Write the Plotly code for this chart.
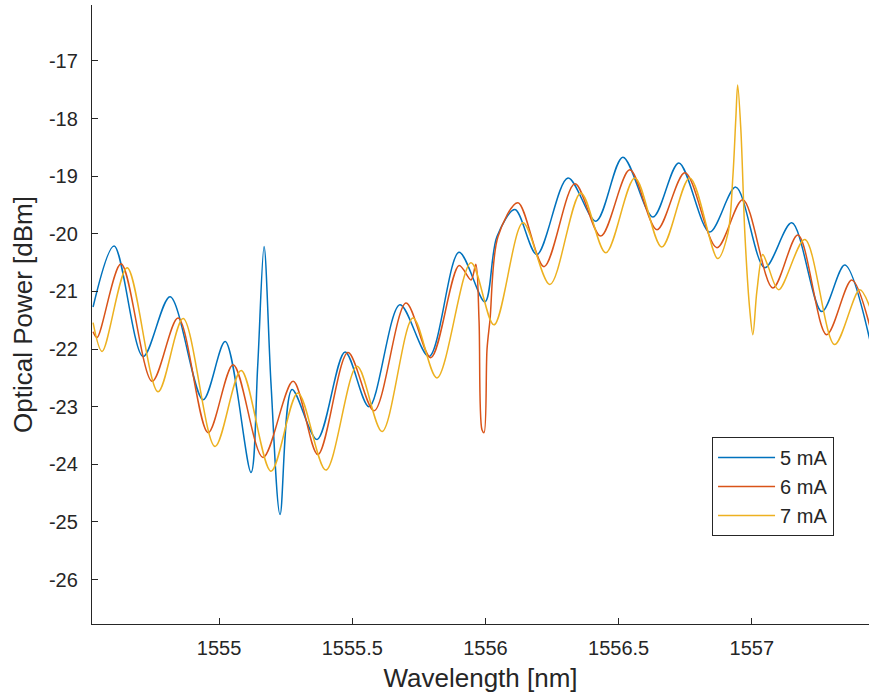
import plotly.graph_objects as go

# Optical spectra of the laser at three bias currents (wavelength in nm, power in dBm)
wl_5ma = [1554.527, 1554.606, 1554.715, 1554.816, 1554.940, 1555.023, 1555.120, 1555.145,
          1555.169, 1555.195, 1555.229, 1555.274, 1555.368, 1555.473, 1555.563, 1555.679,
          1555.788, 1555.901, 1555.998, 1556.043, 1556.111, 1556.193, 1556.310, 1556.415,
          1556.516, 1556.629, 1556.726, 1556.842, 1556.940, 1557.049, 1557.150, 1557.263,
          1557.349, 1557.443]
pw_5ma = [-21.27, -20.21, -22.13, -21.09, -22.88, -21.87, -24.14, -22.30,
          -20.22, -22.60, -24.87, -22.70, -23.57, -22.05, -23.00, -21.23,
          -22.13, -20.32, -21.18, -20.05, -19.58, -20.36, -19.03, -19.78,
          -18.67, -19.71, -18.77, -19.97, -19.19, -20.59, -19.81, -21.35,
          -20.54, -21.84]

wl_6ma = [1554.527, 1554.542, 1554.632, 1554.749, 1554.846, 1554.959, 1555.053, 1555.165,
          1555.278, 1555.371, 1555.484, 1555.582, 1555.702, 1555.795, 1555.901, 1555.946,
          1555.964, 1555.976, 1555.987, 1555.995, 1556.006, 1556.017, 1556.047, 1556.122,
          1556.220, 1556.336, 1556.433, 1556.542, 1556.644, 1556.749, 1556.869, 1556.966,
          1557.079, 1557.173, 1557.281, 1557.375, 1557.443]
pw_6ma = [-21.70, -21.80, -20.52, -22.56, -21.46, -23.45, -22.27, -23.88,
          -22.56, -23.83, -22.06, -23.07, -21.20, -22.15, -20.55, -20.80,
          -20.53, -21.50, -23.40, -23.45, -22.00, -21.50, -20.05, -19.46,
          -20.57, -19.13, -20.04, -18.89, -19.93, -18.94, -20.24, -19.41,
          -20.94, -20.02, -21.75, -20.80, -21.60]

wl_7ma = [1554.527, 1554.561, 1554.655, 1554.771, 1554.865, 1554.985, 1555.083, 1555.195,
          1555.296, 1555.401, 1555.518, 1555.612, 1555.728, 1555.818, 1555.946, 1556.032,
          1556.141, 1556.242, 1556.358, 1556.452, 1556.561, 1556.662, 1556.767, 1556.872,
          1556.910, 1556.929, 1556.940, 1556.947, 1556.959, 1556.974, 1556.992, 1557.004,
          1557.019, 1557.041, 1557.060, 1557.101, 1557.199, 1557.311, 1557.405, 1557.443]
pw_7ma = [-21.54, -22.04, -20.59, -22.74, -21.47, -23.69, -22.37, -24.12,
          -22.76, -24.10, -22.30, -23.43, -21.46, -22.50, -20.50, -21.58,
          -19.81, -20.88, -19.29, -20.33, -19.03, -20.23, -19.03, -20.43,
          -20.00, -19.00, -18.00, -17.42, -18.20, -20.00, -21.30, -21.75,
          -21.00, -20.36, -20.55, -20.97, -20.10, -21.92, -20.97, -21.27]

series_names = ["5 mA", "6 mA", "7 mA"]
series_colors = ["#0072BD", "#D95319", "#EDB120"]

x_ticks = [1555, 1555.5, 1556, 1556.5, 1557]
x_tick_text = ["1555", "1555.5", "1556", "1556.5", "1557"]
y_ticks = [-26, -25, -24, -23, -22, -21, -20, -19, -18, -17]
y_tick_text = ["-26", "-25", "-24", "-23", "-22", "-21", "-20", "-19", "-18", "-17"]

font_family = "Liberation Sans, Arial, sans-serif"
text_color = "#262626"
axis_color = "#262626"

fig = go.Figure()
for wl, pw, name, color in zip([wl_5ma, wl_6ma, wl_7ma], [pw_5ma, pw_6ma, pw_7ma],
                               series_names, series_colors):
    fig.add_trace(go.Scatter(
        x=wl, y=pw, name=name, mode="lines",
        line=dict(color=color, width=1.5, shape="spline", smoothing=0.9),
    ))

fig.update_layout(
    width=870, height=700,
    margin=dict(l=92, r=1, t=5, b=76),
    paper_bgcolor="white", plot_bgcolor="white",
    font=dict(family=font_family, size=20, color=text_color),
    showlegend=True,
    legend=dict(
        x=0.798, y=0.302, xanchor="left", yanchor="top",
        bgcolor="white", bordercolor=axis_color, borderwidth=1,
        font=dict(size=20, color=text_color),
        itemwidth=57, tracegroupgap=0,
    ),
)

fig.update_xaxes(
    range=[1554.523, 1557.44],
    tickmode="array", tickvals=x_ticks, ticktext=x_tick_text,
    ticks="inside", ticklen=6, tickcolor=axis_color, tickwidth=1,
    showline=True, linecolor=axis_color, linewidth=1.3, mirror=False,
    showgrid=False, zeroline=False, automargin=False,
    ticklabelstandoff=6,
    title=dict(text="Wavelength [nm]", font=dict(size=26, color=text_color), standoff=10),
    tickfont=dict(size=20, color=text_color),
)
fig.update_yaxes(
    range=[-26.77, -16.03],
    tickmode="array", tickvals=y_ticks, ticktext=y_tick_text,
    ticks="inside", ticklen=6, tickcolor=axis_color, tickwidth=1,
    showline=True, linecolor=axis_color, linewidth=1.3, mirror=False,
    showgrid=False, zeroline=False, automargin=False,
    ticklabelstandoff=9,
    title=dict(text="Optical Power [dBm]", font=dict(size=26, color=text_color), standoff=8),
    tickfont=dict(size=20, color=text_color),
)

fig.write_html("out.html")
